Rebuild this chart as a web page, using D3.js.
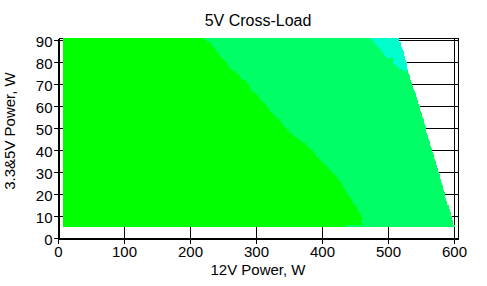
<!DOCTYPE html>
<html>
<head>
<meta charset="utf-8">
<script src="https://cdn.jsdelivr.net/npm/d3@7"></script>
<style>
  body { margin: 0; background: #fff; }
  text { font-family: "Liberation Sans", Arial, sans-serif; fill: #000; }
</style>
</head>
<body>
<div id="chart"></div>
<script>
var svgWidth = 487;
var svgHeight = 286;

// 3.3&5V load of each row (W), top row first
var rowLoads = d3.range(90, 4, -1);

// 12V load where every row starts
var startLoad = 7.5;

// 12V load where the bright green zone ends, per row
var greenEdge = [221, 226, 232, 233, 236, 239, 241, 244, 247, 250,
  253, 256, 258, 261, 264, 268, 272, 275, 279, 283,
  286, 289, 291, 293, 296, 300, 303, 306, 309, 312,
  315, 317, 320, 323, 326, 329, 332, 336, 339, 341,
  344, 347, 350, 354, 358, 362, 366, 370, 375, 379,
  383, 386, 388, 391, 394, 397, 400, 403, 407, 410,
  413, 416, 420, 423, 425, 428, 430, 432, 434, 436,
  437, 440, 442, 444, 446, 449, 451, 453, 455, 457,
  459, 460, 462, 459, 462, 437];

// 12V load where the cyan zone starts (null = no cyan on that row)
var cyanEdge = [474, 477, 481, 483, 486, 489, 491, 494, 497, 507,
  508, 508, 512, 516, 521];

// 12V load where each row ends
var maxEdge = [516, 516, 519, 520, 521, 522, 524, 524, 525, 526,
  527, 528, 529, 529, 530, 531, 532, 533, 534, 535,
  536, 537, 538, 539, 541, 542, 543, 544, 545, 546,
  547, 548, 549, 550, 551, 552, 553, 554, 555, 556,
  557, 557, 558, 559, 560, 561, 562, 563, 564, 565,
  566, 567, 568, 569, 570, 571, 572, 573, 574, 575,
  576, 577, 578, 579, 580, 581, 582, 583, 584, 585,
  586, 587, 587, 588, 589, 590, 592, 593, 594, 595,
  596, 597, 597, 598, 599, 601];

var xTicks = [0, 100, 200, 300, 400, 500, 600];
var yTicks = [0, 10, 20, 30, 40, 50, 60, 70, 80, 90];

var colors = { green: "#00ff00", light: "#00ff66", cyan: "#00ffcc" };

var svg = d3.select("#chart")
  .append("svg")
  .attr("width", svgWidth)
  .attr("height", svgHeight);

var xScale = d3.scaleLinear().domain([0, 606]).range([58.5, 458.5]);
var yScale = d3.scaleLinear().domain([0, 91]).range([238.5, 38.5]);

// grid lines
var grid = svg.append("g")
  .attr("stroke", "#000")
  .attr("stroke-width", 1)
  .attr("shape-rendering", "crispEdges");

grid.selectAll(".hgrid")
  .data(yTicks)
  .enter()
  .append("line")
  .attr("x1", xScale(0))
  .attr("x2", xScale(606))
  .attr("y1", d => Math.floor(yScale(d)) + 0.5)
  .attr("y2", d => Math.floor(yScale(d)) + 0.5);

grid.selectAll(".vgrid")
  .data(xTicks)
  .enter()
  .append("line")
  .attr("y1", yScale(0))
  .attr("y2", yScale(91))
  .attr("x1", d => Math.floor(xScale(d)) + 0.5)
  .attr("x2", d => Math.floor(xScale(d)) + 0.5);

// frame top + right
grid.append("line")
  .attr("x1", xScale(0)).attr("x2", xScale(606))
  .attr("y1", yScale(91)).attr("y2", yScale(91));
grid.append("line")
  .attr("x1", xScale(606)).attr("x2", xScale(606))
  .attr("y1", yScale(0)).attr("y2", yScale(91));

// build the row segments
var segments = [];
rowLoads.forEach(function(w, i) {
  var cy = i < cyanEdge.length ? cyanEdge[i] : null;
  var lightEnd = cy === null ? maxEdge[i] : cy;
  segments.push({ w: w, x0: startLoad, x1: greenEdge[i], c: colors.green });
  segments.push({ w: w, x0: greenEdge[i], x1: lightEnd, c: colors.light });
  if (cy !== null) {
    segments.push({ w: w, x0: cy, x1: maxEdge[i], c: colors.cyan });
  }
});

svg.append("g")
  .attr("shape-rendering", "crispEdges")
  .selectAll("rect")
  .data(segments)
  .enter()
  .append("rect")
  .attr("x", d => Math.floor(xScale(d.x0)))
  .attr("width", d => Math.floor(xScale(d.x1)) - Math.floor(xScale(d.x0)))
  .attr("y", d => Math.floor(yScale(d.w + 1)))
  .attr("height", d => Math.floor(yScale(d.w)) - Math.floor(yScale(d.w + 1)))
  .attr("fill", d => d.c);

// axes
var xAxis = d3.axisBottom(xScale).tickValues(xTicks).tickSize(5).tickSizeOuter(0).tickPadding(3);
var yAxis = d3.axisLeft(yScale).tickValues(yTicks).tickSize(5).tickSizeOuter(0).tickPadding(1);

var xg = svg.append("g")
  .attr("transform", "translate(0, 0)")
  .attr("shape-rendering", "crispEdges")
  .call(xAxis);
xg.attr("transform", `translate(0, ${Math.floor(yScale(0)) + 0.5 - yScale(0)})`);
xg.select(".domain").attr("transform", `translate(0, ${yScale(0)})`);
xg.selectAll(".tick").attr("transform", d => `translate(${Math.floor(xScale(d)) + 0.5}, ${yScale(0)})`);

var yg = svg.append("g")
  .attr("shape-rendering", "crispEdges")
  .call(yAxis);
yg.select(".domain").attr("transform", `translate(${xScale(0)}, 0)`);
yg.selectAll(".tick").attr("transform", d => `translate(${xScale(0)}, ${Math.floor(yScale(d)) + 0.5})`);

svg.selectAll(".domain").attr("stroke", "#000");
svg.selectAll(".tick line").attr("stroke", "#000");
svg.selectAll(".tick text")
  .attr("font-size", 15)
  .attr("font-family", "Liberation Sans, Arial, sans-serif")
  .attr("fill", "#000");
yg.selectAll(".tick text").attr("dy", "0.42em");

// titles
svg.append("text")
  .attr("x", 258)
  .attr("y", 26)
  .attr("text-anchor", "middle")
  .attr("font-size", 16)
  .text("5V Cross-Load");

svg.append("text")
  .attr("x", 258)
  .attr("y", 275)
  .attr("text-anchor", "middle")
  .attr("font-size", 15)
  .text("12V Power, W");

svg.append("text")
  .attr("transform", "translate(15, 131) rotate(-90)")
  .attr("text-anchor", "middle")
  .attr("font-size", 15)
  .text("3.3&5V Power, W");
</script>
</body>
</html>
